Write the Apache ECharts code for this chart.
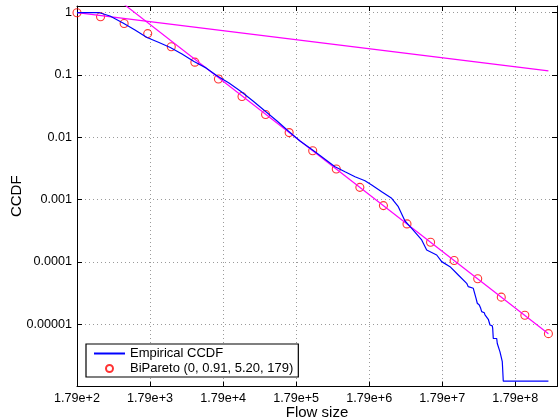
<!DOCTYPE html>
<html><head><meta charset="utf-8">
<script src="https://cdn.jsdelivr.net/npm/echarts@6/dist/echarts.min.js"></script>
<style>html,body{margin:0;padding:0;background:#fff}#c{width:558px;height:418px}</style>
</head><body><div id="c"></div>
<script>
// Flow sizes are normalised by the BiPareto scale k = 179; both axes are log10 scales
const K = 179;

// Empirical CCDF
const empX = [179, 364, 506, 763, 1114, 1626, 2374, 3389, 4899, 7153, 10441, 14905, 21556, 31474, 45940, 67070, 97920, 139700, 202100, 324400, 609000, 835000, 1144400, 1568000, 1937000, 2654000, 3637000, 4479000, 5533000, 6833000, 9367000, 10964000, 15027000, 17592000, 22860000, 29685000, 38680000, 40690000, 47630000, 51860000, 54020000, 57550000, 60150000, 62060000, 67380000, 68880000, 72670000, 76430000, 80640000, 80640000, 86690000, 87780000, 89450000, 99600000, 101500000, 108100000, 110500000, 116600000, 118800000, 122600000, 122600000, 508600000];
const empY = [1, 1, 0.885, 0.683, 0.528, 0.400, 0.332, 0.276, 0.217, 0.165, 0.130, 0.0964, 0.0744, 0.0543, 0.0383, 0.0264, 0.0183, 0.0126, 0.00872, 0.00587, 0.00337, 0.00280, 0.00233, 0.00201, 0.00172, 0.00134, 0.00105, 0.000769, 0.000453, 0.000346, 0.000225, 0.000155, 0.000129, 0.000101, 0.0000838, 0.0000616, 0.0000453, 0.0000400, 0.0000377, 0.0000263, 0.0000217, 0.0000203, 0.0000180, 0.0000159, 0.0000153, 0.0000141, 0.0000135, 0.0000120, 0.0000114, 0.0000097, 0.0000094, 0.0000086, 0.0000059, 0.0000059, 0.0000049, 0.0000048, 0.0000036, 0.0000035, 0.0000025, 0.0000024, 0.00000122, 0.00000122];

// BiPareto fit markers
const fitX = [179, 376, 791, 1663, 3496, 7350, 15451, 32481, 68282, 143543, 301756, 634350, 1333519, 2803324, 5893149, 12388580, 26043270, 54748160, 115091580, 241945500, 508617700];
const fitY = [1, 0.8616, 0.6707, 0.4619, 0.2838, 0.1607, 0.0863, 0.04513, 0.02325, 0.01190, 0.006070, 0.003092, 0.001573, 0.000801, 0.000407, 0.000207, 0.0001053, 0.0000536, 0.0000272, 0.0000139, 0.00000705];

// Asymptotic lines (magenta)
const tailX = [179, 508617700];
const tailY = [5.26, 0.00000705];
const bodyX = [179, 508617700];
const bodyY = [1, 0.1163];

// Tick labels (indexed by decade)
const xTickLabels = ['1.79e+2', '1.79e+3', '1.79e+4', '1.79e+5', '1.79e+6', '1.79e+7', '1.79e+8'];
const yTickLabels = ['1', '0.1', '0.01', '0.001', '0.0001', '0.00001'];

const names = {emp: 'Empirical CCDF', fit: 'BiPareto (0, 0.91, 5.20, 179)'};
const FF = '"Liberation Sans", Arial, Helvetica, sans-serif';

function pairs(xs, ys) { return xs.map((x, i) => [Math.log10(x / K), Math.log10(ys[i])]); }
function intOf(v) { const e = Math.round(v); return Math.abs(v - e) < 1e-6 ? e : null; }

const chart = echarts.init(document.getElementById('c'), null, {renderer: 'canvas'});
const axisFont = {fontFamily: FF, fontSize: 12.6, color: '#000'};
const gridLine = {show: true, lineStyle: {color: '#9a9a9a', type: [1, 3], width: 1}};
const X_MIN = 0, X_MAX = 6.571, Y_MIN = -6, Y_MAX = 0.1075;
const tick = {show: true, inside: true, length: 5, lineStyle: {color: '#000'}};
const line = {show: true, onZero: false, lineStyle: {color: '#000', width: 1}};

chart.setOption({
  animation: false,
  backgroundColor: '#fff',
  grid: {left: 77, top: 6, width: 480, height: 380.5, containLabel: false, outerBoundsMode: 'none'},
  xAxis: [{
    type: 'value', min: X_MIN, max: X_MAX, interval: 1, position: 'bottom',
    axisLine: line, axisTick: tick,
    axisLabel: Object.assign({margin: 6, showMaxLabel: false, formatter: v => { const e = intOf(v); return (e !== null && xTickLabels[e]) ? xTickLabels[e] : ''; }}, axisFont),
    splitLine: gridLine,
    name: 'Flow size', nameLocation: 'middle', nameGap: 19, nameMoveOverlap: false,
    nameTextStyle: {fontFamily: FF, fontSize: 15, color: '#000'}
  }, {
    type: 'value', min: X_MIN, max: X_MAX, interval: 1, position: 'top',
    axisLine: line, axisTick: tick, axisLabel: {show: false}, splitLine: {show: false}
  }],
  yAxis: [{
    type: 'value', min: Y_MIN, max: Y_MAX, interval: 1, position: 'left',
    axisLine: line, axisTick: tick,
    axisLabel: Object.assign({margin: 5, showMaxLabel: false, formatter: v => { const e = intOf(v); return (e !== null && e <= 0 && yTickLabels[-e]) ? yTickLabels[-e] : ''; }}, axisFont),
    splitLine: gridLine,
    name: 'CCDF', nameLocation: 'middle', nameGap: 53, nameMoveOverlap: false,
    nameTextStyle: {fontFamily: FF, fontSize: 15, color: '#000'}
  }, {
    type: 'value', min: Y_MIN, max: Y_MAX, interval: 1, position: 'right',
    axisLine: line, axisTick: tick, axisLabel: {show: false}, splitLine: {show: false}
  }],
  legend: {
    orient: 'vertical', left: 86, top: 344,
    data: [{name: names.emp}, {name: names.fit}],
    itemWidth: 31, itemHeight: 7, itemGap: 2,
    padding: [3, 5, 2, 7],
    borderColor: '#000', borderWidth: 1.2, backgroundColor: '#fff',
    textStyle: {fontFamily: FF, fontSize: 13, color: '#000'},
    selectedMode: false
  },
  series: [
    {type: 'line', name: 'tail', data: pairs(tailX, tailY), symbol: 'none', lineStyle: {color: '#ff00ff', width: 1.2}, itemStyle: {color: '#ff00ff'}, clip: true, silent: true},
    {type: 'line', name: 'body', data: pairs(bodyX, bodyY), symbol: 'none', lineStyle: {color: '#ff00ff', width: 1.2}, itemStyle: {color: '#ff00ff'}, clip: true, silent: true},
    {type: 'line', name: names.emp, data: pairs(empX, empY), symbol: 'none', lineStyle: {color: '#0000ff', width: 1.2}, itemStyle: {color: 'rgba(0,0,255,0)', borderWidth: 0}, clip: true},
    {type: 'scatter', name: names.fit, data: pairs(fitX, fitY), symbol: 'circle', symbolSize: 8,
     itemStyle: {color: 'rgba(255,0,0,0)', borderColor: '#ff0000', borderWidth: 1.1}, clip: false}
  ]
});
</script></body></html>
